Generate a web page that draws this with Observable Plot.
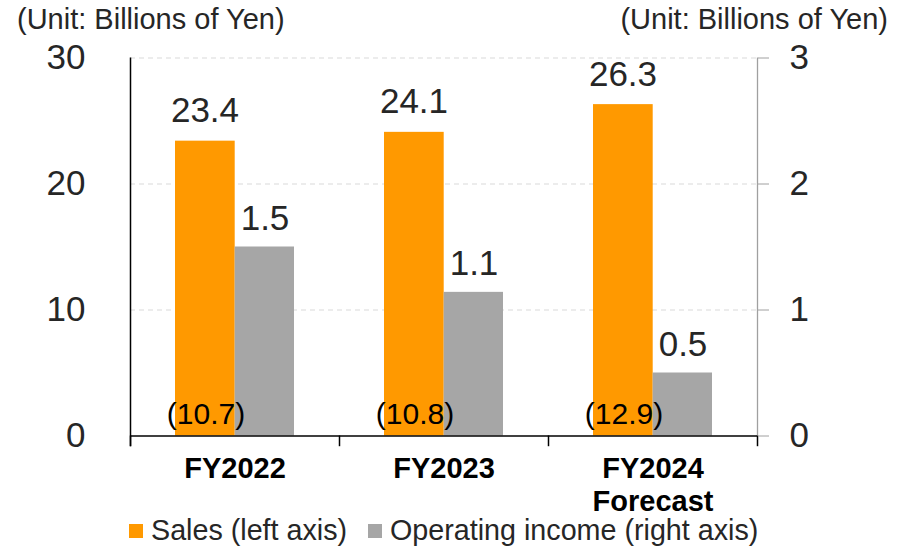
<!DOCTYPE html>
<html>
<head>
<meta charset="utf-8">
<script src="https://cdn.jsdelivr.net/npm/d3@7"></script>
<script src="https://cdn.jsdelivr.net/npm/@observablehq/plot@0.6"></script>
<style>
  html, body { margin: 0; padding: 0; background: white; }
  #wrap { position: relative; width: 904px; height: 548px; font-family: "Liberation Sans", Arial, sans-serif; color: #262626; }
  .unit { position: absolute; top: 1px; font-size: 29px; line-height: 36px; white-space: nowrap; }
  .legend { position: absolute; top: 514px; left: 0; width: 904px; height: 34px; font-size: 28.7px; }
  .sw { position: absolute; top: 10px; width: 14px; height: 14px; }
  .lt { position: absolute; top: 0; line-height: 32px; white-space: nowrap; }
  svg { position: absolute; top: 0; left: 0; }
</style>
</head>
<body>
<div id="wrap"></div>
<script>
// ---- data ----
const categories = ["FY2022", "FY2023", "FY2024"];
const categoryLabels = ["FY2022", "FY2023", "FY2024\nForecast"];
const sales = [23.4, 24.1, 26.3];               // left axis, billions of yen
const operatingIncome = [1.5, 1.14, 0.5];       // right axis, billions of yen
const bracketValues = [10.7, 10.8, 12.9];
const leftTicks = [0, 10, 20, 30];
const rightTicks = [0, 1, 2, 3];
const unitText = "(Unit: Billions of Yen)";
const legendLabels = ["Sales (left axis)", "Operating income (right axis)"];

const ORANGE = "#FF9900";
const GRAY = "#A6A6A6";
const RATIO = 10; // right axis (0–3) mapped onto left axis (0–30)

const rows = categories.map((c, i) => ({
  category: c,
  label: categoryLabels[i],
  sales: sales[i],
  oi: operatingIncome[i],
  bracket: bracketValues[i]
}));

const half = 209 / 2;

const chart = Plot.plot({
  width: 904,
  height: 512,
  marginLeft: 130,
  marginRight: 147,
  marginTop: 57.5,
  marginBottom: 76.5,
  x: { domain: categories, padding: 0, axis: null },
  y: { domain: [0, 30], axis: null },
  style: { fontFamily: "'Liberation Sans', Arial, sans-serif", background: "white", overflow: "visible", color: "#262626" },
  marks: [
    // gridlines
    Plot.ruleY(leftTicks.filter(d => d > 0), { stroke: "#D9D9D9", strokeWidth: 1, strokeDasharray: "5,4" }),
    // bars
    Plot.barY(rows, { x: "category", y: "sales", fill: ORANGE, insetLeft: 45, insetRight: 104.3 }),
    Plot.barY(rows, { x: "category", y: d => d.oi * RATIO, fill: GRAY, insetLeft: 104.7, insetRight: 45 }),
    // right axis line
    Plot.ruleX([categories[categories.length - 1]], { dx: half, y1: 0, y2: 30, stroke: "#A0A0A0", strokeWidth: 1.3 }),
    // left axis line
    Plot.ruleX([categories[0]], { dx: -half, y1: -0.85, y2: 30, stroke: "black", strokeWidth: 1.5 }),
    // bottom axis line
    Plot.ruleY([0], { stroke: "black", strokeWidth: 1.5 }),
    // category boundary ticks
    Plot.ruleX(categories, { dx: -half, y1: 0, y2: -0.85, stroke: "black", strokeWidth: 1.5 }),
    Plot.ruleX([categories[categories.length - 1]], { dx: half, y1: 0, y2: -0.85, stroke: "black", strokeWidth: 1.5 }),
    // left axis labels
    Plot.axisY({ anchor: "left", label: null, ticks: leftTicks, tickSize: 0, tickPadding: 45, fontSize: 35, fill: "#262626", tickFormat: d => String(d) }),
    // right axis
    Plot.axisY({ anchor: "right", label: null, ticks: rightTicks.map(d => d * RATIO), tickSize: 11, tickPadding: 21, stroke: "#A0A0A0", fill: "#262626", fontSize: 35, tickFormat: d => String(d / RATIO) }),
    // value labels
    Plot.text(rows, { x: "category", y: "sales", text: d => d.sales.toFixed(1), dx: -30, dy: -19, lineAnchor: "bottom", fontSize: 35, fill: "#262626" }),
    Plot.text(rows, { x: "category", y: d => d.oi * RATIO, text: d => d.oi.toFixed(1), dx: 30, dy: -17, lineAnchor: "bottom", fontSize: 35, fill: "#262626" }),
    // bracket labels
    Plot.text(rows, { x: "category", y: 0, text: d => `(${d.bracket.toFixed(1)})`, dx: -29, dy: -12.5, lineAnchor: "bottom", fontSize: 30, fill: "black" }),
    // category labels
    Plot.text(rows, { x: "category", frameAnchor: "bottom", text: "label", lineAnchor: "top", dy: 18, lineHeight: 1.15, fontSize: 29, fontWeight: "bold", fill: "black" })
  ]
});

const wrap = document.getElementById("wrap");
wrap.appendChild(chart);

const u1 = document.createElement("div");
u1.className = "unit"; u1.style.left = "17px"; u1.textContent = unitText;
const u2 = document.createElement("div");
u2.className = "unit"; u2.style.right = "16px"; u2.textContent = unitText;
wrap.appendChild(u1); wrap.appendChild(u2);

const legend = document.createElement("div");
legend.className = "legend";
legend.innerHTML = `
  <div class="sw" style="left:129px;background:${ORANGE}"></div>
  <div class="lt" style="left:151px">${legendLabels[0]}</div>
  <div class="sw" style="left:368px;background:${GRAY}"></div>
  <div class="lt" style="left:390px">${legendLabels[1]}</div>`;
wrap.appendChild(legend);
</script>
</body>
</html>
